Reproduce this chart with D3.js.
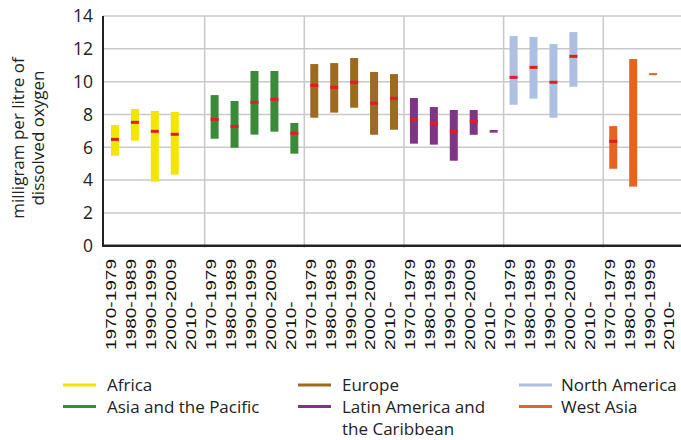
<!DOCTYPE html>
<html>
<head>
<meta charset="utf-8">
<script src="https://cdn.jsdelivr.net/npm/d3@7/dist/d3.min.js"></script>
<style>
  html, body { margin: 0; padding: 0; background: #fff; }
  svg { display: block; }
</style>
</head>
<body>
<svg id="chart" width="681" height="440"></svg>
<script>
// ---- data ----
const regions = ["Africa", "Asia and the Pacific", "Europe", "Latin America and the Caribbean", "North America", "West Asia"];
const regionColors = ["#f2e600", "#3b8a3a", "#9c6a20", "#7d3584", "#adc0e1", "#e66421"];
const categories = [
  "1970-1979","1980-1989","1990-1999","2000-2009","2010-",
  "1970-1979","1980-1989","1990-1999","2000-2009","2010-",
  "1970-1979","1980-1989","1990-1999","2000-2009","2010-",
  "1970-1979","1980-1989","1990-1999","2000-2009","2010-",
  "1970-1979","1980-1989","1990-1999","2000-2009","2010-",
  "1970-1979","1980-1989","1990-1999","2010-"
];
const regionIndex = [0,0,0,0,0, 1,1,1,1,1, 2,2,2,2,2, 3,3,3,3,3, 4,4,4,4,4, 5,5,5,5];
const minValues = [5.48,6.40,3.90,4.33,null, 6.52,5.97,6.77,6.95,5.61, 7.80,8.11,8.41,6.76,7.07, 6.22,6.16,5.18,6.76,6.89, 8.59,8.96,7.80,9.69,null, 4.69,3.60,10.42,null];
const maxValues = [7.36,8.33,8.21,8.15,null, 9.18,8.82,10.65,10.65,7.48, 11.07,11.13,11.44,10.59,10.46, 9.00,8.45,8.27,8.27,7.05, 12.78,12.72,12.29,13.02,null, 7.29,11.38,10.52,null];
const meanValues = [6.48,7.52,6.97,6.79,null, 7.70,7.27,8.74,8.92,6.85, 9.77,9.65,9.96,8.68,8.98, 7.70,7.46,6.97,7.58,null, 10.26,10.87,9.96,11.54,null, 6.36,null,null,null];
const yTicks = [0,2,4,6,8,10,12,14];
const yTitleLines = ["milligram per litre of", "dissolved oxygen"];
const legendColumns = [[0,1],[2,3],[4,5]];

// ---- layout ----
const svg = d3.select("#chart");
const plotLeft = 103, plotRight = 681, plotTop = 16, plotBottom = 245.7;
const idx = d3.range(categories.length);
const x = d3.scaleBand().domain(idx).range([105, 683]).paddingInner(0).paddingOuter(0);
const y = d3.scaleLinear().domain([0, 14]).range([plotBottom, plotTop]);

// horizontal gridlines
svg.append("g").selectAll("line").data(yTicks.filter(d => d > 0)).join("line")
  .attr("x1", plotLeft).attr("x2", plotRight)
  .attr("y1", d => y(d)).attr("y2", d => y(d))
  .attr("stroke", "#c9c9c9").attr("stroke-width", 1.5);

// vertical group separators
const groupStarts = idx.filter(i => i > 0 && regionIndex[i] !== regionIndex[i - 1]);
svg.append("g").selectAll("line").data(groupStarts).join("line")
  .attr("x1", d => x(d)).attr("x2", d => x(d))
  .attr("y1", plotTop).attr("y2", plotBottom + 2)
  .attr("stroke", "#c9c9c9").attr("stroke-width", 1.5);

// range bars
const barW = 8;
const barData = idx.filter(i => minValues[i] !== null);
svg.append("g").selectAll("rect").data(barData).join("rect")
  .attr("x", i => x(i) + x.bandwidth() / 2 - barW / 2)
  .attr("width", barW)
  .attr("y", i => y(maxValues[i]))
  .attr("height", i => Math.max(2, y(minValues[i]) - y(maxValues[i])))
  .attr("fill", i => regionColors[regionIndex[i]]);

// mean markers
const meanData = idx.filter(i => meanValues[i] !== null);
svg.append("g").selectAll("rect").data(meanData).join("rect")
  .attr("x", i => x(i) + x.bandwidth() / 2 - barW / 2)
  .attr("width", barW)
  .attr("y", i => y(meanValues[i]) - 1.5)
  .attr("height", 3)
  .attr("fill", "#e31b23");

// axes lines
svg.append("line").attr("x1", plotLeft).attr("x2", plotLeft)
  .attr("y1", plotTop).attr("y2", plotBottom + 1)
  .attr("stroke", "#222").attr("stroke-width", 2);
svg.append("line").attr("x1", plotLeft - 1).attr("x2", plotRight)
  .attr("y1", plotBottom).attr("y2", plotBottom)
  .attr("stroke", "#222").attr("stroke-width", 2.5);

// y tick labels
svg.append("g").selectAll("text").data(yTicks).join("text")
  .attr("x", 93).attr("y", d => y(d)).attr("dy", "0.36em")
  .attr("text-anchor", "end")
  .attr("font-family", "'Open Sans', sans-serif").attr("font-size", 17.5)
  .attr("fill", "#222")
  .text(d => d);

// y title
const yTitle = svg.append("text")
  .attr("transform", "translate(0,138) rotate(-90)")
  .attr("text-anchor", "middle")
  .attr("font-family", "'Open Sans', sans-serif").attr("font-size", 17)
  .attr("fill", "#222");
yTitleLines.forEach((t, k) => {
  yTitle.append("tspan").attr("x", 0).attr("y", 24 + k * 20).text(t);
});

// x category labels
svg.append("g").selectAll("text").data(idx).join("text")
  .attr("transform", i => `translate(${x(i) + x.bandwidth() / 2 - 4},350) rotate(-90) scale(1.27,1)`)
  .attr("dy", "0.36em")
  .attr("text-anchor", "start")
  .attr("font-family", "'Liberation Sans', Arial, sans-serif").attr("font-size", 15)
  .attr("fill", "#111")
  .text(i => categories[i]);

// legend
const legendX = [63, 298, 519];
const legendTextX = [107, 342, 561];
const legendY0 = 385, legendDy = 21.5;
legendColumns.forEach((col, c) => {
  col.forEach((r, k) => {
    const yy = legendY0 + k * legendDy;
    svg.append("line")
      .attr("x1", legendX[c]).attr("x2", legendX[c] + 33)
      .attr("y1", yy).attr("y2", yy)
      .attr("stroke", regionColors[r]).attr("stroke-width", 3);
    const t = svg.append("text")
      .attr("x", legendTextX[c]).attr("y", yy).attr("dy", "0.38em")
      .attr("font-family", "'Open Sans', sans-serif").attr("font-size", 17)
      .attr("fill", "#222");
    if (regions[r] === "Latin America and the Caribbean") {
      t.append("tspan").attr("x", legendTextX[c]).text("Latin America and");
      t.append("tspan").attr("x", legendTextX[c]).attr("dy", "1.27em").text("the Caribbean");
    } else {
      t.text(regions[r]);
    }
  });
});
</script>
</body>
</html>
